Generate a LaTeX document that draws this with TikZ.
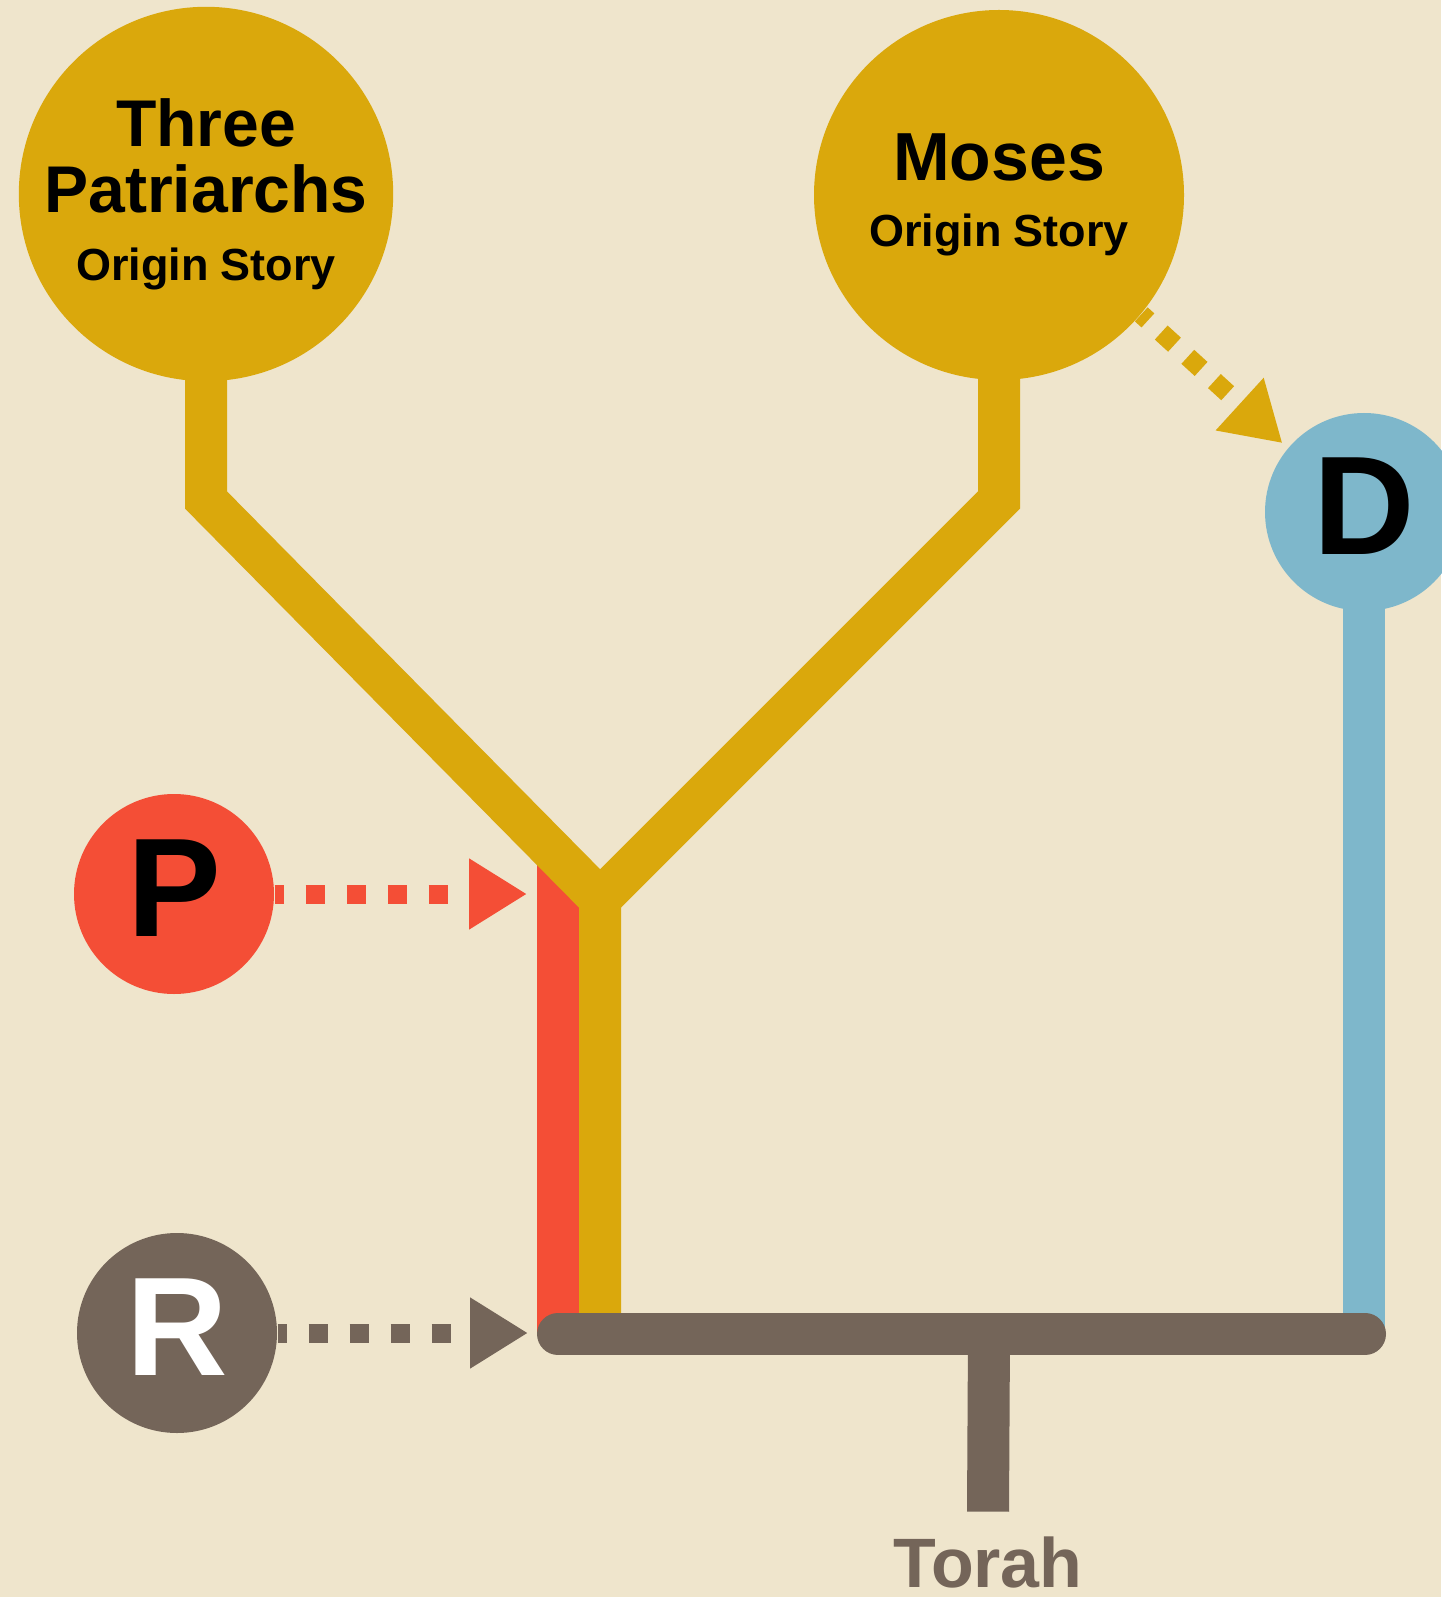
\documentclass[tikz,border=0pt]{standalone}
\usepackage{xcolor}
\usepackage{fontspec}
\setmainfont{Liberation Sans}
\usepackage{tikz}
\usetikzlibrary{arrows.meta, positioning, calc}
\definecolor{torahcream}{RGB}{239,229,204}
\definecolor{torahgold}{RGB}{218,168,12}
\definecolor{torahred}{RGB}{244,78,54}
\definecolor{torahbrown}{RGB}{116,101,89}
\definecolor{torahblue}{RGB}{126,183,203}

\begin{document}
\begin{tikzpicture}[
    source/.style={circle, inner sep=0pt, align=center, font=\bfseries},
    letter/.style={source, minimum size=2cm, text depth=0.12cm,
        font=\bfseries\fontsize{40}{40}\selectfont},
    strand/.style={line width=0.42cm},
    dotarrow/.style={line width=0.19cm, dash pattern=on 0.19cm off 0.22cm,
        dash phase=0.1cm, -{Triangle[length=0.58cm, width=0.67cm]}}
]
\useasboundingbox (0,0) rectangle (14.41,-15.97);
\fill[torahcream] (0,0) rectangle (14.41,-15.97);

\node[
    source,
    fill=torahgold,
    minimum size=3.68cm,
    font=\bfseries\fontsize{18.8}{18.8}\selectfont
] (patriarchs) at (2.06,-1.94)
{Three\\Patriarchs\\[0.55pt]{\fontsize{12.8}{14}\selectfont Origin Story}};

\node[
    source,
    fill=torahgold,
    minimum size=3.70cm,
    font=\bfseries\fontsize{19.35}{18.8}\selectfont
] (moses) at (9.99,-1.95)
{Moses\\{\fontsize{12.8}{14}\selectfont Origin Story}};

\node[letter, fill=torahblue, minimum size=1.98cm] (dsrc) at (13.64,-5.12) {D};
\node[letter, fill=torahred] (psrc) at (1.74,-8.94) {P};
\node[letter, fill=torahbrown, text=white] (rsrc) at (1.77,-13.33) {R};
\node[
    font=\bfseries\fontsize{19.9}{20}\selectfont,
    text=torahbrown,
    inner sep=0pt
] (torah) at (9.88,-15.62) {Torah};

\coordinate (tpbend) at (2.06,-5.00);
\coordinate (mosesbend) at (9.99,-5.00);
\coordinate (fork) at (6.00,-8.99);
\coordinate (redtop) at (5.58,-8.55);
\coordinate (redfoot) at (5.58,-13.34);
\coordinate (goldfoot) at (6.00,-13.34);
\coordinate (bluefoot) at (13.64,-13.34);
\coordinate (barleft) at (5.58,-13.34);
\coordinate (barright) at (13.65,-13.34);
\coordinate (barmid) at (9.89,-13.34);
\coordinate (pin) at (5.27,-8.94);
\coordinate (rin) at (5.28,-13.33);

\draw[strand, torahred] (redtop) -- (redfoot);
\draw[strand, torahgold] ([yshift=0.05cm]patriarchs.south) -- (tpbend) -- (fork) -- (goldfoot);
\draw[strand, torahgold] ([yshift=0.05cm]moses.south) -- (mosesbend) -- (fork);
\draw[strand, torahblue] ([yshift=0.05cm]dsrc.south) -- (bluefoot);
\draw[strand, torahbrown, line cap=round] (barleft) -- (barright);
\draw[strand, torahbrown] (barmid) -- ([yshift=0.24cm]torah.north);

\draw[dotarrow, torahred] (psrc) -- (pin);
\draw[dotarrow, torahbrown] (rsrc) -- (rin);
\draw[dotarrow, torahgold, dash pattern=on 0.18cm off 0.18cm, dash phase=0.09cm,
    shorten >=0.07cm] (moses.-40) -- (dsrc.140);
\end{tikzpicture}
\end{document}
